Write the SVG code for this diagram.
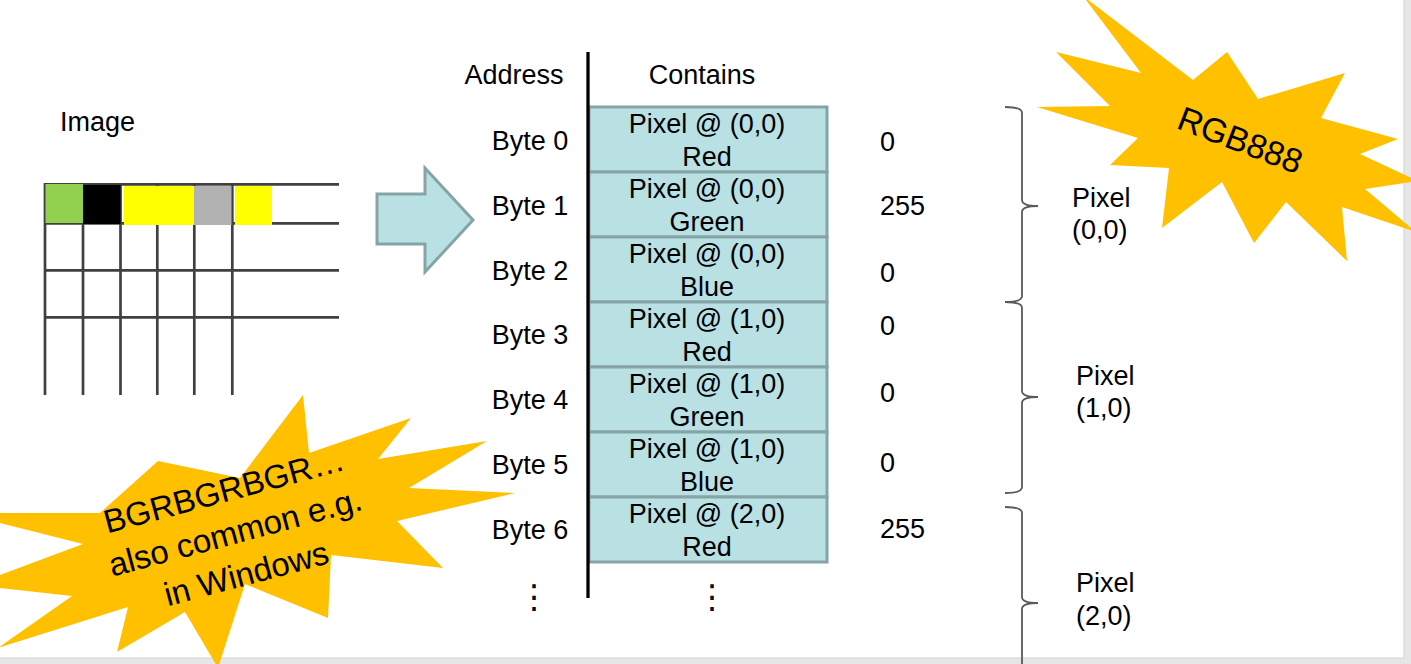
<svg xmlns="http://www.w3.org/2000/svg" width="1411" height="664" viewBox="0 0 1411 664">
<style>
.t{font-family:"Liberation Sans",Arial,sans-serif;font-size:27px;fill:#000}
.c{text-anchor:middle}
.cell{fill:#b9e0e3;stroke:#86a4a6;stroke-width:3}
.grid{stroke:#404040;stroke-width:2.7;fill:none}
.brace{fill:none;stroke:#5a5a5a;stroke-width:1.8}
.star{fill:#ffc000}
.dots{font-family:"DejaVu Sans",sans-serif;font-size:33px;text-anchor:middle}
</style>
<rect x="0" y="0" width="1411" height="664" fill="#e6e6e6"/>
<rect x="-1" y="-1" width="1405" height="659" fill="#ffffff" stroke="#d2d2d2" stroke-width="1"/>

<g id="image-label"><text class="t" x="60" y="131">Image</text></g>

<g id="image-grid">
<line class="grid" x1="45" y1="184.3" x2="339" y2="184.3"/>
<line class="grid" x1="45" y1="223.3" x2="339" y2="223.3"/>
<line class="grid" x1="45" y1="270.3" x2="339" y2="270.3"/>
<line class="grid" x1="45" y1="317.3" x2="339" y2="317.3"/>
<line class="grid" x1="45" y1="183" x2="45" y2="395"/>
<line class="grid" x1="83" y1="183" x2="83" y2="395"/>
<line class="grid" x1="120.5" y1="183" x2="120.5" y2="395"/>
<line class="grid" x1="157.3" y1="183" x2="157.3" y2="395"/>
<line class="grid" x1="194.3" y1="183" x2="194.3" y2="395"/>
<line class="grid" x1="232.3" y1="183" x2="232.3" y2="395"/>
<rect x="45.5" y="184" width="37.5" height="39" fill="#92d050"/>
<rect x="83" y="185" width="37.5" height="39" fill="#000000"/>
<rect x="124" y="186" width="70" height="39" fill="#ffff00"/>
<rect x="194" y="186" width="37.5" height="39" fill="#b2b2b2"/>
<rect x="235" y="186" width="37" height="39" fill="#ffff00"/>
</g>

<g id="connectors">
<polygon id="big-arrow" points="377,194 425,194 425,168 473,220 425,272 425,244 377,244" fill="#b9e0e3" stroke="#86a4a6" stroke-width="3" stroke-linejoin="miter"/>
<path class="brace" d="M1005,107 Q1022,107 1022,113 L1022,200 Q1022,206 1038,206 Q1022,206 1022,212 L1022,296 Q1022,302 1005,302"/>
<path class="brace" d="M1005,302 Q1022,302 1022,308 L1022,391 Q1022,397 1038,397 Q1022,397 1022,403 L1022,487 Q1022,493 1005,493"/>
<path class="brace" d="M1005,507 Q1022,507 1022,513 L1022,597 Q1022,603 1038,603 Q1022,603 1022,609 L1022,700"/>
</g>

<g id="headers">
<text class="t c" x="514" y="84">Address</text>
<text class="t c" x="702" y="84">Contains</text>
</g>

<g id="memory">
<g id="byte0"><rect class="cell" x="589" y="107" width="238" height="65"/><text class="t c" x="707" y="133">Pixel @ (0,0)</text><text class="t c" x="707" y="166">Red</text><text class="t c" x="530" y="150">Byte 0</text><text class="t" x="880" y="151">0</text></g>
<g id="byte1"><rect class="cell" x="589" y="172" width="238" height="65"/><text class="t c" x="707" y="198">Pixel @ (0,0)</text><text class="t c" x="707" y="231">Green</text><text class="t c" x="530" y="215">Byte 1</text><text class="t" x="880" y="215">255</text></g>
<g id="byte2"><rect class="cell" x="589" y="237" width="238" height="65"/><text class="t c" x="707" y="263">Pixel @ (0,0)</text><text class="t c" x="707" y="296">Blue</text><text class="t c" x="530" y="280">Byte 2</text><text class="t" x="880" y="282">0</text></g>
<g id="byte3"><rect class="cell" x="589" y="302" width="238" height="65"/><text class="t c" x="707" y="328">Pixel @ (1,0)</text><text class="t c" x="707" y="361">Red</text><text class="t c" x="530" y="344">Byte 3</text><text class="t" x="880" y="335">0</text></g>
<g id="byte4"><rect class="cell" x="589" y="367" width="238" height="65"/><text class="t c" x="707" y="393">Pixel @ (1,0)</text><text class="t c" x="707" y="426">Green</text><text class="t c" x="530" y="409">Byte 4</text><text class="t" x="880" y="402">0</text></g>
<g id="byte5"><rect class="cell" x="589" y="432" width="238" height="65"/><text class="t c" x="707" y="458">Pixel @ (1,0)</text><text class="t c" x="707" y="491">Blue</text><text class="t c" x="530" y="474">Byte 5</text><text class="t" x="880" y="472">0</text></g>
<g id="byte6"><rect class="cell" x="589" y="497" width="238" height="65"/><text class="t c" x="707" y="523">Pixel @ (2,0)</text><text class="t c" x="707" y="556">Red</text><text class="t c" x="530" y="539">Byte 6</text><text class="t" x="880" y="538">255</text></g>
<line x1="588" y1="52" x2="588" y2="598" stroke="#000" stroke-width="3.3"/>
<g id="ellipsis"><text class="dots" x="534" y="608">⋮</text><text class="dots" x="712" y="608">⋮</text></g>
</g>

<g id="pixel-labels">
<g id="pixel00"><text class="t" x="1072" y="207">Pixel</text><text class="t" x="1072" y="239">(0,0)</text></g>
<g id="pixel10"><text class="t" x="1076" y="385">Pixel</text><text class="t" x="1076" y="417">(1,0)</text></g>
<g id="pixel20"><text class="t" x="1076" y="592">Pixel</text><text class="t" x="1076" y="625">(2,0)</text></g>
</g>

<g id="star-rgb888">
<polygon class="star" points="1083,-4 1193,80 1227,52 1258,99 1345,73 1321,118 1398,139 1360,154 1418,181 1365,189 1416,232 1342,207 1347,261 1286,202 1254,243 1222,182 1162,228 1169,168 1110,165 1138,138 1037,107 1110,106 1056,52 1141,73"/>
<text class="t c" style="font-size:34px" transform="translate(1236,151) rotate(21)">RGB888</text>
</g>

<g id="star-bgr">
<polygon class="star" points="303,395 309,453 411,418 378,459 487,441 409,488 515,493 397,521 443,568 331,555 328,618 245,584 218,668 185,612 117,652 128,607 -2,648 72,596 -27,585 83,544 -40,513 100,513 158,461 240,478"/>
<g transform="translate(238,543) rotate(-15)">
<text class="t c" style="font-size:33px" x="0" y="-43">BGRBGRBGR…</text>
<text class="t c" style="font-size:33px" x="0" y="0">also common e.g.</text>
<text class="t c" style="font-size:33px" x="0" y="43">in Windows</text>
</g>
</g>
</svg>
